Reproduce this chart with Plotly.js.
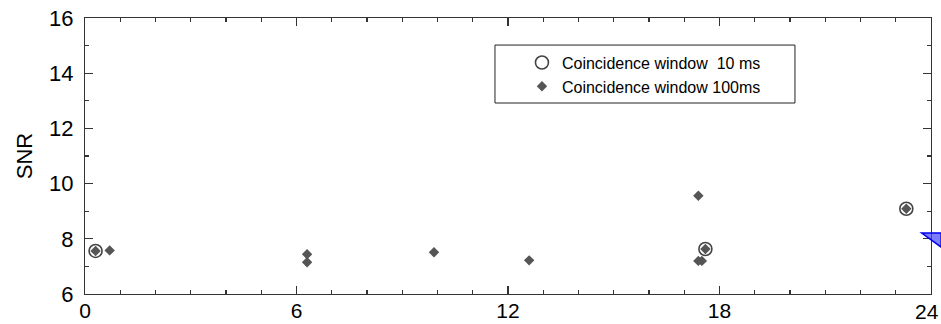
<!DOCTYPE html>
<html>
<head>
<meta charset="utf-8">
<script src="https://cdn.plot.ly/plotly-3.0.1.min.js"></script>
<style>html,body{margin:0;padding:0;background:#fff;}#chart{width:941px;height:324px;}</style>
</head>
<body>
<div id="chart"></div>
<script>
// Coincidence window 10 ms (open circles)
const win10X = [0.3, 17.6, 23.3];
const win10Y = [7.56, 7.63, 9.09];
// Coincidence window 100 ms (filled diamonds)
const win100X = [0.3, 0.7, 6.3, 6.3, 9.9, 12.6, 17.4, 17.4, 17.5, 17.6, 23.3];
const win100Y = [7.56, 7.58, 7.44, 7.15, 7.51, 7.22, 9.56, 7.2, 7.2, 7.63, 9.09];
const seriesNames = ["Coincidence window\u00a0\u00a010 ms", "Coincidence window 100ms"];
const xTicks = [0, 6, 12, 18, 24];
const yTicks = [6, 8, 10, 12, 14, 16];

const font = "Liberation Sans, Arial, Helvetica, sans-serif";
const lastX = xTicks[xTicks.length - 1];
const traces = [
  {x: win10X, y: win10Y, type: 'scatter', mode: 'markers', name: seriesNames[0],
   marker: {symbol: 'circle-open', size: 13, color: '#444', line: {width: 1.6, color: '#444'}}},
  {x: win100X, y: win100Y, type: 'scatter', mode: 'markers', name: seriesNames[1],
   marker: {symbol: 'diamond', size: 8, color: '#555'}}
];
const axisCommon = {
  showgrid: false, zeroline: false, showline: true, linecolor: '#333', linewidth: 1.2,
  mirror: 'allticks', ticks: 'inside', ticklen: 8, tickcolor: '#333', tickwidth: 1.2
};
const layout = {
  width: 941, height: 324,
  margin: {l: 85, r: 10, t: 18, b: 30},
  paper_bgcolor: '#fff', plot_bgcolor: '#fff',
  showlegend: true,
  legend: {x: 0.5165, y: 0.90, xanchor: 'left', yanchor: 'top', bgcolor: 'rgba(0,0,0,0)',
           borderwidth: 0, tracegroupgap: 0, font: {family: font, size: 16, color: '#000'}},
  xaxis: Object.assign({}, axisCommon, {range: [0, 24], tickvals: xTicks,
    ticktext: xTicks.map(v => v === lastX ? '' : String(v)),
    tickfont: {family: font, size: 21, color: '#000'}, ticklabelstandoff: -2,
    minor: {dtick: 1, ticks: 'inside', ticklen: 4, tickcolor: '#333'}}),
  yaxis: Object.assign({}, axisCommon, {range: [6, 16], tickvals: yTicks, ticktext: yTicks.map(String),
    tickfont: {family: font, size: 22, color: '#000'}, ticklabelstandoff: 6,
    minor: {dtick: 1, ticks: 'inside', ticklen: 4, tickcolor: '#333'},
    title: {text: 'SNR', font: {family: font, size: 22, color: '#000'}, standoff: 10}}),
  annotations: [
    {x: lastX, xref: 'x', y: 0, yref: 'paper', yanchor: 'top', xanchor: 'right', xshift: 10, yshift: -4,
     text: String(lastX), showarrow: false, font: {family: font, size: 21, color: '#000'}}
  ],
  shapes: [
    {type: 'rect', xref: 'paper', yref: 'paper', x0: 0.4846, x1: 0.8392, y0: 0.692, y1: 0.902,
     line: {color: '#222', width: 1}},
    {type: 'path', xref: 'paper', yref: 'paper', path: 'M 0.989 0.221 L 1.012 0.221 L 1.012 0.17 Z',
     fillcolor: 'rgba(70,70,255,0.7)', line: {color: '#0000ee', width: 1.5}}
  ]
};
Plotly.newPlot('chart', traces, layout, {displayModeBar: false, staticPlot: true});
</script>
</body>
</html>
